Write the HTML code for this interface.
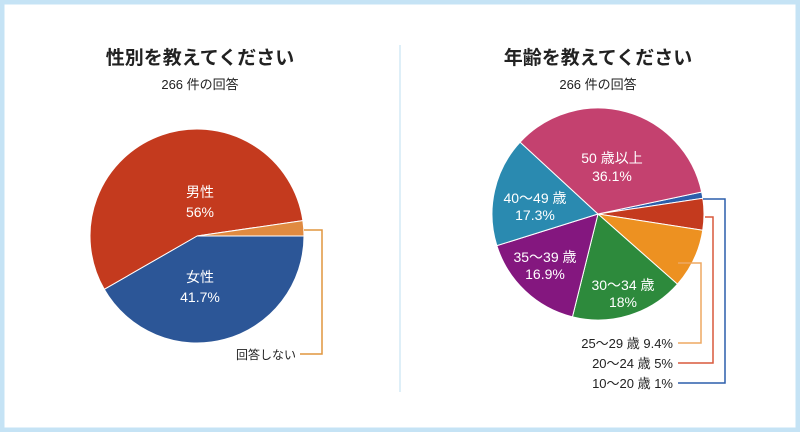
<!DOCTYPE html>
<html><head><meta charset="utf-8"><style>
html,body{margin:0;padding:0;background:#fff}
svg{display:block;font-family:"Liberation Sans","Noto Sans CJK JP",sans-serif}
</style></head><body>
<svg width="800" height="432" viewBox="0 0 800 432" xmlns="http://www.w3.org/2000/svg">
<rect x="2" y="2" width="796" height="428" fill="#fff" stroke="#c5e3f5" stroke-width="5"/>
<line x1="400" y1="45" x2="400" y2="392" stroke="#d4eaf6" stroke-width="1.5"/>
<g text-anchor="middle" fill="#222">
<text x="200" y="64" font-size="19" font-weight="bold">性別を教えてください</text>
<text x="200" y="89" font-size="13">266 件の回答</text>
<text x="598" y="64" font-size="19" font-weight="bold">年齢を教えてください</text>
<text x="598" y="89" font-size="13">266 件の回答</text>
</g>
<g id="left" stroke="#fff" stroke-width="1"></g>
<g id="right" stroke="#fff" stroke-width="1"></g>
<g text-anchor="middle" fill="#fff" font-size="14">
<text x="200" y="197">男性</text><text x="200" y="217">56%</text>
<text x="200" y="282">女性</text><text x="200" y="302">41.7%</text>
<text x="612" y="163">50 歳以上</text><text x="612" y="181">36.1%</text>
<text x="535" y="203">40〜49 歳</text><text x="535" y="220">17.3%</text>
<text x="545" y="262">35〜39 歳</text><text x="545" y="279">16.9%</text>
<text x="623" y="290">30〜34 歳</text><text x="623" y="307">18%</text>
</g>
<g fill="none" stroke-width="1.5">
<polyline points="304,230 322,230 322,354 300,354" stroke="#e0953f"/>
<polyline points="678,263 701,263 701,343 678,343" stroke="#eda862"/>
<polyline points="705,217 713,217 713,363 678,363" stroke="#d9593c"/>
<polyline points="703,199 725,199 725,383 678,383" stroke="#2c5eab"/>
</g>
<g text-anchor="end" fill="#222" font-size="13">
<text x="296" y="359" font-size="12">回答しない</text>
<text x="673" y="348">25〜29 歳 9.4%</text>
<text x="673" y="368">20〜24 歳 5%</text>
<text x="673" y="388">10〜20 歳 1%</text>
</g>
<script>
function pie(id,cx,cy,r,start,data){
 var g=document.getElementById(id),a=start,tot=data.reduce(function(s,d){return s+d[0]},0);
 data.forEach(function(d){
  var sw=d[0]/tot*360,b=a+sw,ra=a*Math.PI/180,rb=b*Math.PI/180;
  var p=document.createElementNS("http://www.w3.org/2000/svg","path");
  p.setAttribute("d","M"+cx+","+cy+" L"+(cx+r*Math.cos(ra))+","+(cy+r*Math.sin(ra))+" A"+r+","+r+" 0 "+(sw>180?1:0)+" 1 "+(cx+r*Math.cos(rb))+","+(cy+r*Math.sin(rb))+" Z");
  p.setAttribute("fill",d[1]);g.appendChild(p);a=b;});
}
pie("left",197,236,107,0,[[41.7,"#2c5697"],[56,"#c43a1e"],[2.3,"#e08a40"]]);
pie("right",598,214,106,-12,[[1,"#2c5eab"],[5,"#c43a1e"],[9.4,"#ed9121"],[18,"#2d8a3c"],[16.9,"#84177f"],[17.3,"#2a8ab0"],[36.1,"#c4416f"]]);
</script>
</svg>
</body></html>
